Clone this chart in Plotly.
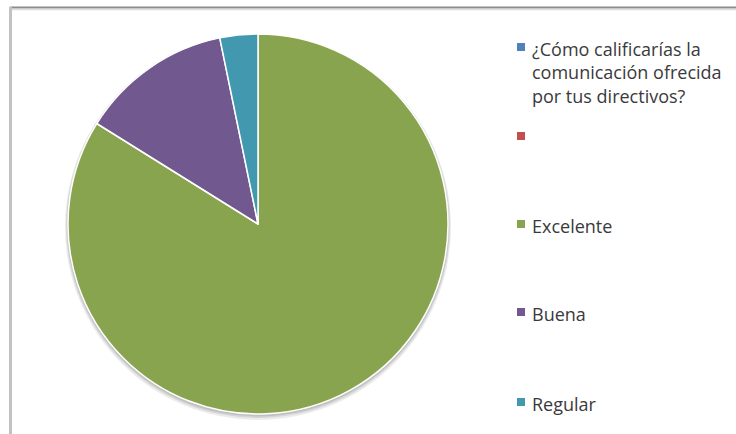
import plotly.graph_objects as go

# Survey answers and their counts
categories = ["Excelente", "Buena", "Regular"]
counts = [26, 4, 1]
slice_colors = ["#89A44E", "#71588F", "#4198AF"]

# Legend entries (series title, empty series, then the answers)
legend_labels = [
    "¿Cómo calificarías la<br>comunicación ofrecida<br>por tus directivos?",
    "",
    "Excelente",
    "Buena",
    "Regular",
]
legend_colors = ["#4F81BD", "#C0504D", "#89A44E", "#71588F", "#4198AF"]
legend_rows_px = [47, 136, 224, 312, 402]  # vertical centre of each legend row

W, H = 736, 434
cx, cy, r = 258, 224, 190


def px_x(v):
    return v / W


def px_y(v):
    return 1 - v / H


fig = go.Figure(
    go.Pie(
        labels=categories,
        values=counts,
        marker=dict(colors=slice_colors, line=dict(color="white", width=1.5)),
        sort=False,
        direction="clockwise",
        rotation=0,
        textinfo="none",
        hoverinfo="label+value+percent",
        showlegend=False,
        domain=dict(x=[px_x(cx - r), px_x(cx + r)], y=[px_y(cy + r), px_y(cy - r)]),
    )
)

shapes = []
# soft drop shadow under the pie
for grow, dy, col in [(3, 3, "#ececec"), (2, 2, "#d6d6d6"), (1, 1.5, "#c0c0c0")]:
    shapes.append(dict(
        type="circle", xref="paper", yref="paper", layer="below",
        x0=px_x(cx - r - grow), x1=px_x(cx + r + grow),
        y0=px_y(cy + r + grow + dy), y1=px_y(cy - r - grow + dy),
        fillcolor=col, line=dict(width=0),
    ))

# chart frame (top and left edges)
shapes.append(dict(type="line", xref="paper", yref="paper",
                   x0=px_x(10), x1=1, y0=px_y(7.5), y1=px_y(7.5),
                   line=dict(color="#8c8c8c", width=2)))
shapes.append(dict(type="line", xref="paper", yref="paper",
                   x0=px_x(11), x1=1, y0=px_y(9.5), y1=px_y(9.5),
                   line=dict(color="#dcdcdc", width=1.5)))
shapes.append(dict(type="line", xref="paper", yref="paper",
                   x0=px_x(10.5), x1=px_x(10.5), y0=0, y1=px_y(7),
                   line=dict(color="#c2c2c2", width=3)))

annotations = []
# legend markers and labels
for label, col, yc in zip(legend_labels, legend_colors, legend_rows_px):
    shapes.append(dict(
        type="rect", xref="paper", yref="paper",
        x0=px_x(517), x1=px_x(525), y0=px_y(yc + 4), y1=px_y(yc - 4),
        fillcolor=col, line=dict(width=0),
    ))
    if label:
        annotations.append(dict(
            text=label, xref="paper", yref="paper",
            x=px_x(530), y=px_y(yc - 12), xanchor="left", yanchor="top",
            align="left", showarrow=False,
            font=dict(family="Open Sans", size=18, color="#3a3a3a"),
        ))

fig.update_layout(
    width=W, height=H,
    margin=dict(l=0, r=0, t=0, b=0),
    paper_bgcolor="white",
    plot_bgcolor="white",
    shapes=shapes,
    annotations=annotations,
)

fig.write_html("out.html")
